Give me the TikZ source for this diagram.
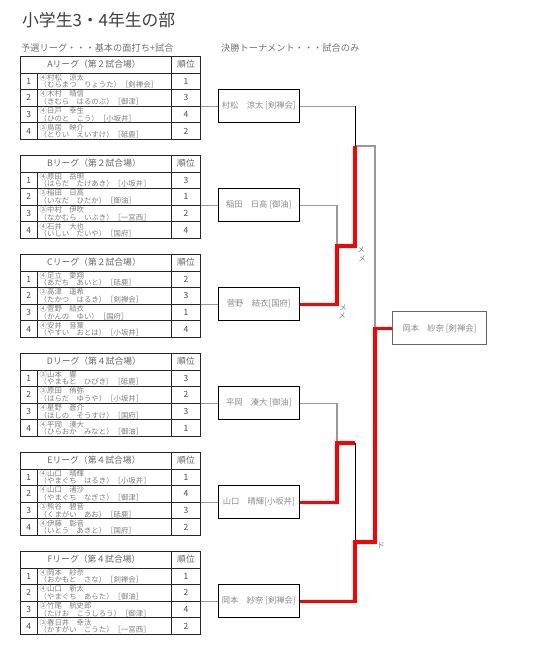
\documentclass[tikz,border=0pt]{standalone}
\usepackage{fontspec}
\setmainfont{Noto Sans CJK JP}
\begin{document}
\begin{tikzpicture}[x=1pt,y=-1pt,
  tb/.style={draw=black!85,line width=0.8pt},
  hd/.style={inner sep=0pt,text=black!60,font=\fontsize{8.8}{9}\selectfont},
  nm/.style={inner sep=0pt,anchor=west,text=black!50,font=\fontsize{7.4}{7.4}\selectfont},
  dg/.style={inner sep=0pt,text=black!70,font=\fontsize{8.5}{9}\selectfont},
  player/.style={draw=black,line width=0.8pt,minimum width=81pt,minimum height=33pt,inner sep=1pt,text=black!45,font=\fontsize{8.3}{9}\selectfont},
  gl/.style={draw=black!40,line width=1.3pt},
  bl/.style={draw=black,line width=0.8pt},
  rl/.style={draw=red,line width=3.3pt},
  mk/.style={inner sep=0pt,text=black!50,font=\fontsize{7.5}{7.5}\selectfont}]
\path[fill=white,use as bounding box] (0,0) rectangle (544,656);
\node[anchor=west,inner sep=0pt,text=black!75,font=\fontsize{16.8}{16.8}\selectfont] (title) at (22,20) {小学生3・4年生の部};
\node[anchor=west,inner sep=0pt,text=black!55,font=\fontsize{9.2}{9.2}\selectfont] (pre) at (21,48) {予選リーグ・・・基本の面打ち+試合};
\node[anchor=west,inner sep=0pt,text=black!55,font=\fontsize{9.2}{9.2}\selectfont] (fin) at (221,48) {決勝トーナメント・・・試合のみ};
\foreach \i/\lg/\f/\w in {0/A/２/村松　涼太 [剣禅会],1/B/２/稲田　日高 [御油],2/C/２/菅野　結衣[国府],3/D/４/平岡　湊大 [御油],4/E/４/山口　晴輝[小坂井],5/F/４/岡本　紗奈 [剣禅会]}{
\begin{scope}[shift={(0,99*\i)}]
\draw[tb] (20,56) rectangle (200,139.4) (20,73) -- (200,73) (20,89.6) -- (200,89.6) (20,106.2) -- (200,106.2) (20,122.8) -- (200,122.8) (37.7,73) -- (37.7,139.4) (171.7,56) -- (171.7,139.4);
\node[hd] (h\lg) at (94,64.5) {\lg リーグ（第\f 試合場）};
\node[hd] (o\lg) at (186,64.5) {順位};
\coordinate (t\lg) at (201,106.2);
\node[player] (b\lg) at (258.8,106.2) {\w};
\draw[gl] (t\lg) -- (b\lg);
\end{scope}}
\foreach \i/\rw/\ka/\yo/\rk in {0/1/④村松　涼太/（むらまつ　りょうた）［剣禅会］/1,0/2/④木村　晴信/（きむら　はるのぶ）［御津］/3,0/3/④日戸　幸生/（ひのと　こう）［小坂井］/4,0/4/③鳥居　映介/（とりい　えいすけ）［砥鹿］/2,
  1/1/④原田　岳明/（はらだ　たけあき）［小坂井］/3,1/2/③稲田　日高/（いなだ　ひだか）［御油］/1,1/3/③中村　伊吹/（なかむら　いぶき）［一宮西］/2,1/4/④石井　大也/（いしい　だいや）［国府］/4,
  2/1/④足立　愛翔/（あだち　あいと）［砥鹿］/2,2/2/③高津　遥希/（たかつ　はるき）［剣禅会］/3,2/3/④菅野　結衣/（かんの　ゆい）［国府］/1,2/4/④安井　音葉/（やすい　おとは）［小坂井］/4,
  3/1/③山本　響/（やまもと　ひびき）［砥鹿］/3,3/2/③原田　侑弥/（はらだ　ゆうや）［小坂井］/2,3/3/④星野　蒼介/（ほしの　そうすけ）［国府］/3,3/4/④平岡　湊大/（ひらおか　みなと）［御油］/1,
  4/1/④山口　晴輝/（やまぐち　はるき）［小坂井］/1,4/2/④山口　渚沙/（やまぐち　なぎさ）［御津］/4,4/3/③熊谷　碧音/（くまがい　あお）［砥鹿］/3,4/4/④伊藤　彰音/（いとう　あきと）［国府］/2,
  5/1/④岡本　紗奈/（おかもと　さな）［剣禅会］/1,5/2/④山口　新太/（やまぐち　あらた）［御油］/2,5/3/③竹尾　航史郎/（たけお　こうしろう）［御津］/4,5/4/③春日井　幸汰/（かすがい　こうた）［一宮西］/2}{
\node[dg] (n\i\rw) at (28.8,64.7+99*\i+16.6*\rw) {\rw};
\node[nm] (a\i\rw) at (39.5,60.9+99*\i+16.6*\rw) {\ka};
\node[nm] (c\i\rw) at (39.5,68.4+99*\i+16.6*\rw) {\yo};
\node[dg] (k\i\rw) at (186,64.7+99*\i+16.6*\rw) {\rk};
}
\node[player,draw=black!60,line width=1.2pt,minimum width=94pt] (win) at (439.5,328.3) {岡本　紗奈 [剣禅会]};
\coordinate (qA) at (355,106.2);
\coordinate (s1) at (355,146);
\coordinate (qB) at (337,205.2);
\coordinate (q1) at (337,246);
\coordinate (r1) at (355,246);
\coordinate (qC) at (337,304.2);
\coordinate (f1) at (375,146);
\coordinate (fw) at (375,328.3);
\coordinate (qD) at (337,403.2);
\coordinate (q2) at (337,443);
\coordinate (r2) at (355,443);
\coordinate (qE) at (337,502.2);
\coordinate (s2) at (355,542);
\coordinate (f2) at (375,542);
\coordinate (qF) at (355,601.2);
\draw[gl] (bA) -- (qA);
\draw[gl] (bB) -- (qB) -- (q1);
\draw[gl] (bD) -- (qD) -- (q2);
\draw[gl] (s1) -- (f1) -- (fw);
\draw[bl] (qA) -- (s1);
\draw[bl] (r2) -- (s2);
\draw[rl] (bC) -- (qC) -- (q1) -- (r1) -- (s1);
\draw[rl] (bE) -- (qE) -- (q2) -- (r2);
\draw[rl] (bF) -- (qF) -- (s2) -- (f2) -- (fw) -- (win);
\node[mk] (m1) at (361,250) {メ};
\node[mk] (m2) at (362,259) {メ};
\node[mk] (m3) at (343,307.5) {メ};
\node[mk] (m4) at (342,315.5) {メ};
\node[mk,font=\fontsize{8}{8}\selectfont] (d1) at (381,546) {ド};
\end{tikzpicture}
\end{document}
